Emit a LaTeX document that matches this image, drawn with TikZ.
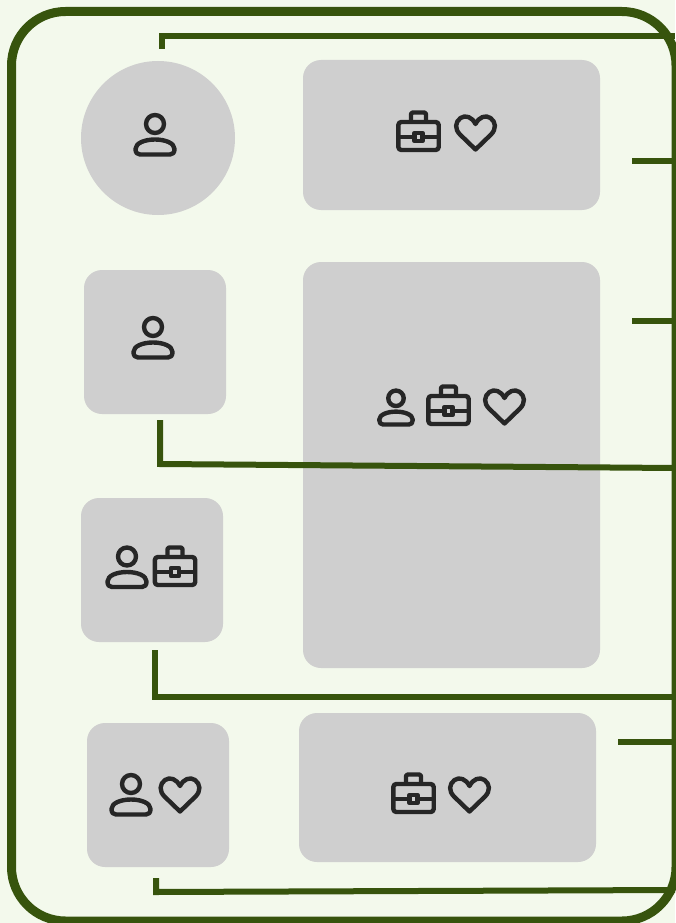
\documentclass[tikz,border=0pt]{standalone}
\definecolor{framegreen}{HTML}{37540D}
\definecolor{paper}{HTML}{F3F9EC}
\definecolor{boxgray}{HTML}{CFCFCF}
\definecolor{ink}{HTML}{262626}
\tikzset{
  box/.style={shape=rectangle,fill=boxgray,rounded corners=18pt,inner sep=0pt},
  wire/.style={draw=framegreen,line width=6pt},
  icon/.style={draw=ink,line width=4.4pt,line join=round},
  pics/person/.style={code={
    \draw[icon] (0,0) circle (9);
    \draw[icon] (-19.5,25) .. controls (-19.5,19) and (-10,15.5) .. (0,15.5)
      .. controls (10,15.5) and (19.5,19) .. (19.5,25)
      .. controls (19.5,28.5) and (18,30.5) .. (15,30.5) -- (-15,30.5)
      .. controls (-18,30.5) and (-19.5,28.5) .. (-19.5,25) -- cycle;
  }},
  pics/case/.style={code={
    \draw[icon,rounded corners=3pt] (-20.2,-15) rectangle (20.2,13);
    \draw[icon,rounded corners=2pt] (-7.5,-15) -- (-7.5,-24.5) -- (7.5,-24.5) -- (7.5,-15);
    \draw[icon] (-4,-4) rectangle (4,4);
    \draw[icon] (-20.2,0) -- (-4,0) (4,0) -- (20.2,0);
  }},
  pics/heart/.style={code={
    \draw[icon] (0,16.5) -- (-15.5,1.5) .. controls (-21,-4) and (-20.5,-11) .. (-15,-15)
      .. controls (-10,-18.5) and (-3.5,-16) .. (0,-9)
      .. controls (3.5,-16) and (10,-18.5) .. (15,-15)
      .. controls (20.5,-11) and (21,-4) .. (15.5,1.5) -- cycle;
  }}
}
\begin{document}
\begin{tikzpicture}[x=1pt,y=-1pt]
\useasboundingbox[fill=paper] (0,0) rectangle (675,923);

\node(frame) at (343.75,466.25)[shape=rectangle,draw=framegreen,line width=9pt,rounded corners=54pt,minimum width=664.5pt,minimum height=909.5pt,inner sep=0pt] {};

\node(solo) at (158,138)[shape=circle,fill=boxgray,minimum size=154pt,inner sep=0pt] {};
\node(soloright) at (451.5,135)[box,minimum width=297pt,minimum height=150pt] {};
\node(second) at (155,342)[box,minimum width=142pt,minimum height=144pt] {};
\node(bigright) at (451.5,465)[box,minimum width=297pt,minimum height=406pt] {};
\node(third) at (152,570)[box,minimum width=142pt,minimum height=144pt] {};
\node(fourth) at (158,795)[box,minimum width=142pt,minimum height=144pt] {};
\node(lastright) at (447.5,787.5)[box,minimum width=297pt,minimum height=149pt] {};

\pic at (155,124) {person};
\pic at (418.5,137) {case};
\pic at (475.5,133) {heart};

\pic at (153,327) {person};

\pic[scale=.86] at (396,398.3) {person};
\pic at (448.5,411) {case};
\pic at (504.5,407) {heart};

\pic at (127,556.5) {person};
\pic at (175,572) {case};

\pic at (131,784) {person};
\pic at (180,795) {heart};

\pic at (413.5,799) {case};
\pic at (469.5,795) {heart};

\coordinate(a0) at (162,49);
\coordinate(a1) at (162,36);
\coordinate(a2) at (675,36);
\coordinate(b0) at (632,160.5);
\coordinate(b1) at (675,160.5);
\coordinate(c0) at (632,321);
\coordinate(c1) at (675,321);
\coordinate(d0) at (160,420);
\coordinate(d1) at (160,464);
\coordinate(d2) at (675,468);
\coordinate(e0) at (155,650);
\coordinate(e1) at (155,697);
\coordinate(e2) at (675,697);
\coordinate(f0) at (618,742);
\coordinate(f1) at (675,742);
\coordinate(g0) at (156,878);
\coordinate(g1) at (156,892);
\coordinate(g2) at (675,890);

\draw[wire] (a0) -- (a1) -- (a2);
\draw[wire] (b0) -- (b1);
\draw[wire] (c0) -- (c1);
\draw[wire] (d0) -- (d1) -- (d2);
\draw[wire] (e0) -- (e1) -- (e2);
\draw[wire] (f0) -- (f1);
\draw[wire] (g0) -- (g1) -- (g2);

\end{tikzpicture}
\end{document}
